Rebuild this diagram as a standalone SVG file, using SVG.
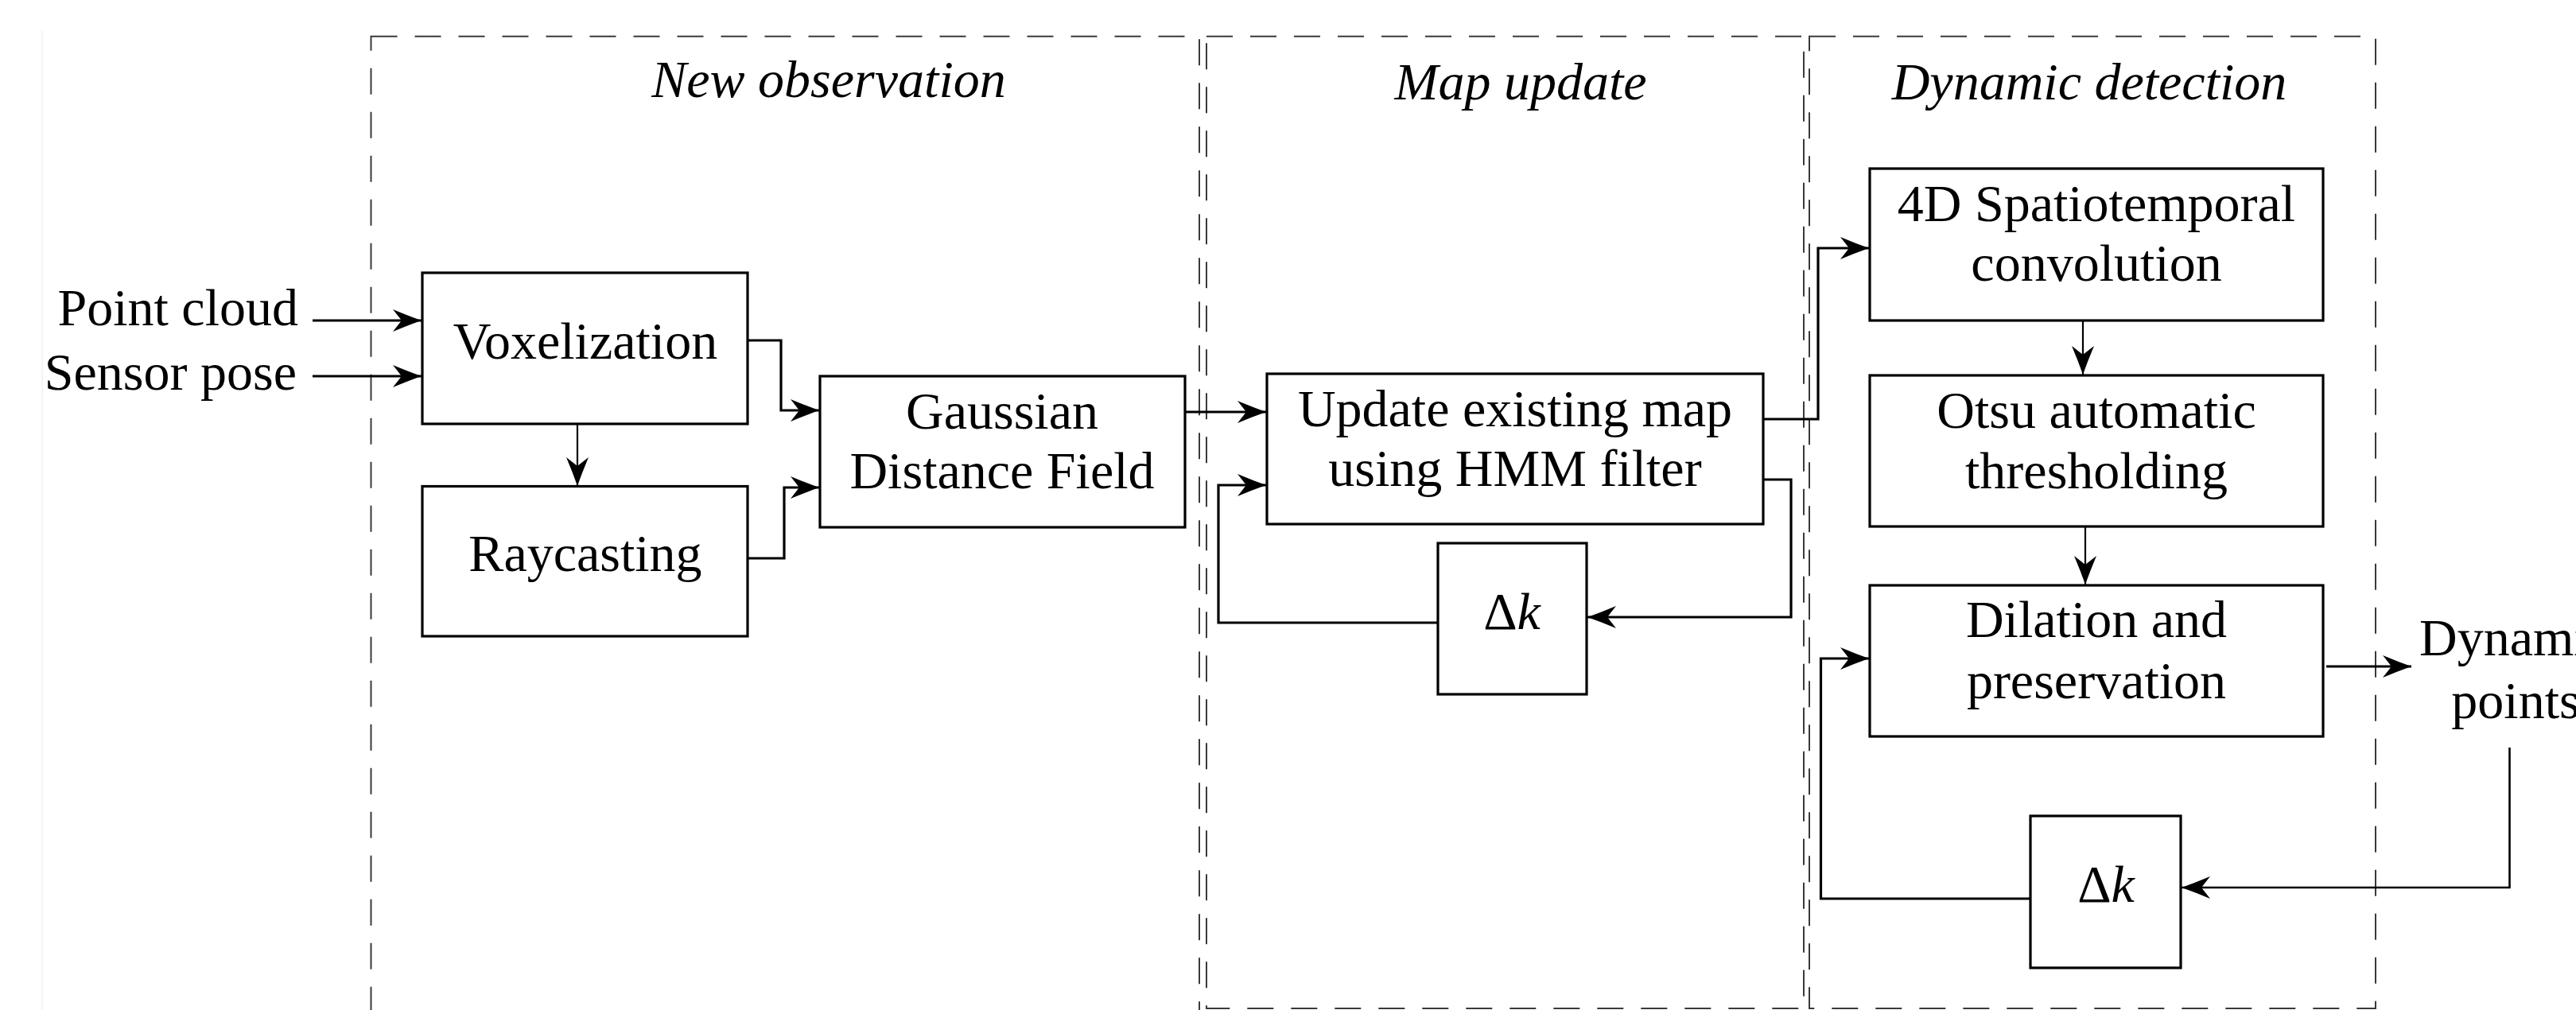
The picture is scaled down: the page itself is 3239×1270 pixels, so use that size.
<svg xmlns="http://www.w3.org/2000/svg" width="3239" height="1270" viewBox="0 0 3239 1270">
<style>
  .bg { fill: #ffffff; }
  .group { fill: none; stroke: #3a3a3a; stroke-width: 2; stroke-dasharray: 33 22; }
  .box { fill: #ffffff; stroke: #000000; stroke-width: 3.2; }
  .t { font-family: "Liberation Serif", "Times New Roman", serif; font-size: 66px; fill: #000000; text-anchor: middle; }
  .title { font-family: "Liberation Serif", "Times New Roman", serif; font-size: 66px; font-style: italic; fill: #000000; text-anchor: middle; }
  .lbl { font-family: "Liberation Serif", "Times New Roman", serif; font-size: 66px; fill: #000000; }
  .c { fill: none; stroke: #000000; stroke-width: 3.2; marker-end: url(#arr); }
  .cthin { fill: none; stroke: #000000; stroke-width: 2.2; marker-end: url(#arr); }
</style>
<defs>
  <marker id="arr" viewBox="-38 -16 40 32" refX="0" refY="0" markerWidth="40" markerHeight="32" markerUnits="userSpaceOnUse" orient="auto">
    <path d="M0,0 Q-17,-6 -36,-14 L-25,0 L-36,14 Q-17,6 0,0 Z" fill="#000000"/>
  </marker>
</defs>
<rect class="bg" x="0" y="0" width="3239" height="1270"/>
<line x1="53" y1="38" x2="53" y2="1270" stroke="#ececec" stroke-width="1"/>

<g id="groups">
  <g id="group-new-observation">
    <rect class="group" x="466.5" y="45.7" width="1041.5" height="1250"/>
    <text class="title" x="1042" y="122">New observation</text>
  </g>
  <g id="group-map-update">
    <rect class="group" x="1517" y="45.7" width="751" height="1222.3"/>
    <text class="title" x="1912" y="125">Map update</text>
  </g>
  <g id="group-dynamic-detection">
    <rect class="group" x="2275" y="45.7" width="712" height="1222.3"/>
    <text class="title" x="2627" y="125">Dynamic detection</text>
  </g>
</g>

<g id="connectors">
  <path class="c" d="M393,403 H530"/>
  <path class="c" d="M393,473 H530"/>
  <path class="cthin" d="M726,533 V611"/>
  <path class="c" d="M940,428 H982 V516 H1030"/>
  <path class="c" d="M940,702 H986 V613 H1030"/>
  <path class="c" d="M1490,518 H1592"/>
  <path class="c" d="M2217,527 H2286 V312 H2350"/>
  <path class="c" d="M2217,603 H2252 V776 H1996"/>
  <path class="c" d="M1808,783 H1532 V610 H1592"/>
  <path class="cthin" d="M2619,403 V471"/>
  <path class="cthin" d="M2622,662 V735"/>
  <path class="c" d="M2925,838 H3032"/>
  <path class="c" d="M3155.5,940 V1116 H2743" style="stroke-width:2.6"/>
  <path class="c" d="M2553,1130 H2289.5 V828 H2350"/>
</g>

<g id="node-point-cloud">
  <text class="lbl" x="375" y="409" text-anchor="end">Point cloud</text>
</g>
<g id="node-sensor-pose">
  <text class="lbl" x="373" y="490" text-anchor="end">Sensor pose</text>
</g>
<g id="node-voxelization">
  <rect class="box" x="531" y="343" width="409" height="190"/>
  <text class="t" x="736" y="451">Voxelization</text>
</g>
<g id="node-raycasting">
  <rect class="box" x="531" y="611.5" width="409" height="188.5"/>
  <text class="t" x="736" y="718">Raycasting</text>
</g>
<g id="node-gdf">
  <rect class="box" x="1031" y="473" width="459" height="190"/>
  <text class="t" x="1260" y="539">Gaussian</text>
  <text class="t" x="1260" y="614">Distance Field</text>
</g>
<g id="node-update-map">
  <rect class="box" x="1593" y="470" width="624" height="189"/>
  <text class="t" x="1905" y="536">Update existing map</text>
  <text class="t" x="1905" y="611">using HMM filter</text>
</g>
<g id="node-delta-k-1">
  <rect class="box" x="1808" y="683" width="187" height="190"/>
  <text class="t" x="1901" y="791">Δ<tspan font-style="italic">k</tspan></text>
</g>
<g id="node-4d-conv">
  <rect class="box" x="2351" y="212" width="570" height="191"/>
  <text class="t" x="2636" y="278">4D Spatiotemporal</text>
  <text class="t" x="2636" y="353">convolution</text>
</g>
<g id="node-otsu">
  <rect class="box" x="2351" y="472" width="570" height="190"/>
  <text class="t" x="2636" y="538">Otsu automatic</text>
  <text class="t" x="2636" y="614">thresholding</text>
</g>
<g id="node-dilation">
  <rect class="box" x="2351" y="736" width="570" height="190"/>
  <text class="t" x="2636" y="801">Dilation and</text>
  <text class="t" x="2636" y="878">preservation</text>
</g>
<g id="node-dynamic-points">
  <text class="t" x="3163" y="824">Dynamic</text>
  <text class="t" x="3163" y="903">points</text>
</g>
<g id="node-delta-k-2">
  <rect class="box" x="2553" y="1026" width="189" height="191"/>
  <text class="t" x="2648" y="1134">Δ<tspan font-style="italic">k</tspan></text>
</g>
</svg>
